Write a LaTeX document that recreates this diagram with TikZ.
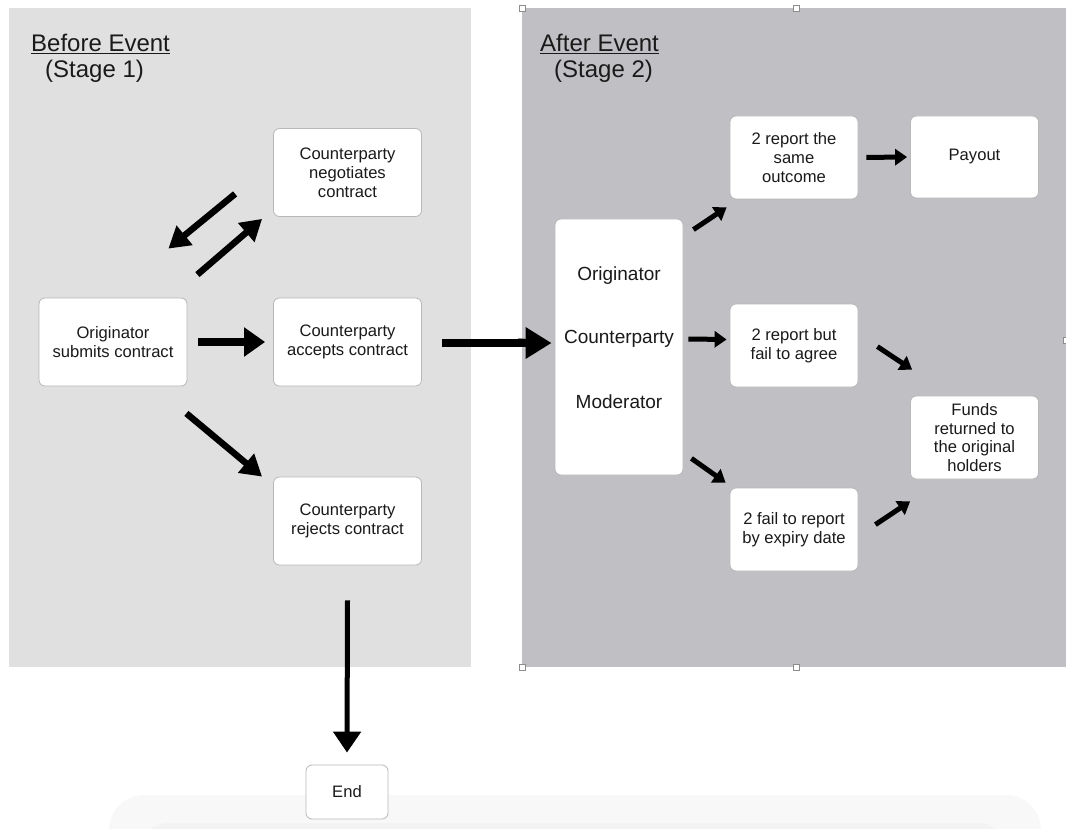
\documentclass[tikz,border=0pt]{standalone}
\usepackage{fontspec}
\setmainfont{Liberation Sans}
\usetikzlibrary{arrows.meta,calc}

\definecolor{stageone}{HTML}{E0E0E0}
\definecolor{stagetwo}{HTML}{C0BFC3}
\definecolor{boxline}{HTML}{B8B8B8}
\definecolor{ink}{HTML}{1A1A1A}
\definecolor{shadeA}{HTML}{F8F8F8}
\definecolor{shadeB}{HTML}{F3F3F3}

\tikzset{
  stepbox/.style={draw=boxline, line width=0.8pt, fill=white, rounded corners=6pt,
    inner sep=0pt, align=center, text=ink, font=\fontsize{16.6}{18.8}\selectfont},
  title/.style={anchor=base west, inner sep=0pt, text=ink, font=\fontsize{24}{28}\selectfont},
  partylabel/.style={inner sep=0pt, text=ink, font=\fontsize{19}{22}\selectfont},
  handle/.style={draw=black!45, fill=white, line width=0.5pt, minimum size=6pt, inner sep=0pt},
  bigarrow/.style={line width=7.5pt, -{Triangle[width=28pt,length=21pt]}},
  diagarrow/.style={line width=6.5pt, -{Triangle[width=24pt,length=21pt]}},
  endarrow/.style={line width=5pt, -{Triangle[width=27pt,length=21pt]}},
  smallarrow/.style={line width=5pt, -{Triangle[width=16pt,length=12pt]}},
}

\begin{document}
\begin{tikzpicture}[x=1pt, y=-1pt]
\useasboundingbox (0,0) rectangle (1066,829);

% stage panels
\fill[stageone] (9,8) rectangle (471,667);
\fill[stagetwo] (522,8) rectangle (1066,667);

% faint footer band
\begin{scope}
  \clip (0,0) rectangle (1066,829);
  \fill[shadeA, rounded corners=35pt] (109,795) rectangle (1041,880);
  \fill[shadeB, rounded corners=30pt] (139,823) rectangle (1007,880);
\end{scope}

% selection handles of the stage 2 panel
\node[handle] (h1) at (522,8) {};
\node[handle] (h2) at (796,8) {};
\node[handle] (h3) at (522,667) {};
\node[handle] (h4) at (796,667) {};
\node[handle] (h5) at (521,341) {};
\node[handle] (h6) at (1066,340) {};

% titles
\node[title] (t1) at (31,52) {\underline{Before Event}};
\node[title] (t1b) at (45,78) {(Stage 1)};
\node[title] (t2) at (540,52) {\underline{After Event}};
\node[title] (t2b) at (554,78) {(Stage 2)};

% stage 1 boxes
\node[stepbox, minimum width=148pt, minimum height=88pt] (orig) at (113,342) {Originator\\submits contract};
\node[stepbox, minimum width=148pt, minimum height=88pt] (neg) at (347.5,172.5) {Counterparty\\negotiates\\contract};
\node[stepbox, minimum width=148pt, minimum height=88pt] (acc) at (347.5,342) {Counterparty\\accepts contract};
\node[stepbox, minimum width=148pt, minimum height=88pt] (rej) at (347.5,521) {Counterparty\\rejects contract};
\node[stepbox, minimum width=82pt, minimum height=54pt] (end) at (347,792) {End};

% stage 2 boxes
\node[stepbox, minimum width=128pt, minimum height=256pt] (parties) at (619,347) {};
\node[partylabel] (pa) at (619,276) {Originator};
\node[partylabel] (pb) at (619,339) {Counterparty};
\node[partylabel] (pc) at (619,402) {Moderator};

\node[stepbox, minimum width=128pt, minimum height=83pt] (same) at (794,157.5) {2 report the\\same\\outcome};
\node[stepbox, minimum width=128pt, minimum height=82pt] (pay) at (974.5,157) {Payout};
\node[stepbox, minimum width=128pt, minimum height=83pt] (agree) at (794,345.5) {2 report but\\fail to agree};
\node[stepbox, minimum width=128pt, minimum height=83pt] (funds) at (974.5,437.5) {Funds\\returned to\\the original\\holders};
\node[stepbox, minimum width=128pt, minimum height=83pt] (report) at (794,529.5) {2 fail to report\\by expiry date};

% stage 1 arrows
\draw[diagarrow] ([shift={(-38,-23)}]neg.south west) -- ([shift={(-19,-49)}]orig.north east);
\draw[diagarrow] ([shift={(10,-23)}]orig.north east) -- ([shift={(-11,2)}]neg.south west);
\draw[bigarrow, shorten <=11pt, shorten >=8pt] (orig.east) -- (acc.west);
\draw[diagarrow] ([shift={(-1,27)}]orig.south east) -- ([shift={(-11,0)}]rej.north west);
\draw[bigarrow, -{Triangle[width=30pt,length=26pt]}] ([shift={(20,1)}]acc.east) -- ([shift={(-3,-4)}]parties.west);
\draw[endarrow] ([shift={(0,35)}]rej.south) -- ([shift={(0,-12)}]end.north);

% stage 2 arrows
\draw[smallarrow] ([shift={(10,11)}]parties.north east) -- ([shift={(-3,8)}]same.south west);
\draw[smallarrow, shorten <=8pt, shorten >=3pt] (same.east) -- (pay.west);
\draw[smallarrow] ([shift={(5,-8)}]parties.east) -- ([shift={(-3,-6)}]agree.west);
\draw[smallarrow] ([shift={(19,43)}]agree.north east) -- ([shift={(2,-26)}]funds.north west);
\draw[smallarrow] ([shift={(8,-17)}]parties.south east) -- ([shift={(-4,-5)}]report.north west);
\draw[smallarrow] ([shift={(17,37)}]report.north east) -- ([shift={(0,22)}]funds.south west);
\end{tikzpicture}
\end{document}
